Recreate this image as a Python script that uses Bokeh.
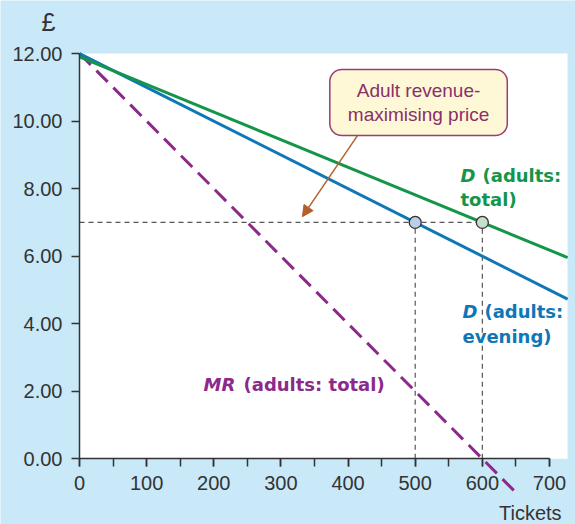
from bokeh.plotting import figure
from bokeh.models import Range1d, SingleIntervalTicker, PrintfTickFormatter, Label, Arrow, NormalHead
from bokeh.core.properties import value
from bokeh.embed import file_html
from bokeh.resources import INLINE

# ---- data ----
demand_total_q = [0, 727]
demand_total_p = [11.9, 5.96]
demand_evening_q = [0, 727]
demand_evening_p = [12.0, 4.73]
mr_q = [0, 652]
mr_p = [12.0, -1.04]
eq_q = [500, 600]
eq_p = [7.0, 7.0]

BG = "#c9e9f9"
GREEN = "#13954a"
BLUE = "#0f77b5"
PURPLE = "#8c2a8c"
FONT = "Liberation Sans"
BFONT = "DejaVu Sans"

W, H = 575, 524
X0_PX, X_SCALE = 79.0, 0.6714     # px of x=0, px per ticket
Y0_PX, Y_SCALE = 458.3, 33.77     # px of y=0, px per pound
x_start = -X0_PX / X_SCALE
x_end = (W - X0_PX) / X_SCALE
y_end = Y0_PX / Y_SCALE
y_start = -(H - Y0_PX) / Y_SCALE
WHITE_RIGHT = (567 - X0_PX) / X_SCALE

p = figure(width=W, height=H, output_backend="svg", toolbar_location=None,
           x_range=Range1d(x_start, x_end), y_range=Range1d(y_start, y_end),
           min_border_left=0, min_border_right=0, min_border_top=0, min_border_bottom=0)
p.background_fill_color = BG
p.border_fill_color = BG
p.outline_line_color = None
p.grid.visible = False

# white plotting area
p.quad(left=[0], right=[WHITE_RIGHT], bottom=[0], top=[12], fill_color="white", line_color=None)

# guide lines
p.segment(x0=[0, eq_q[0], eq_q[1]], y0=[eq_p[0], 0, 0],
          x1=[eq_q[1], eq_q[0], eq_q[1]], y1=[eq_p[1], eq_p[0], eq_p[1]],
          line_color="#555555", line_width=1.2, line_dash="5 4")

# curves
p.line(mr_q, mr_p, line_color=PURPLE, line_width=3, line_dash="16 8")
p.line(demand_evening_q, demand_evening_p, line_color=BLUE, line_width=3)
p.line(demand_total_q, demand_total_p, line_color=GREEN, line_width=3)

p.scatter(x=eq_q, y=eq_p, size=12, fill_color=["#b9d0e6", "#c6e0cb"],
          line_color="#333333", line_width=1.3)

# axes
xa = p.xaxis[0]
xa.fixed_location = 0
xa.bounds = (0, 700)
xa.ticker = SingleIntervalTicker(interval=100, num_minor_ticks=2)
xa.axis_line_color = "#333333"
xa.axis_line_width = 1.5
xa.major_tick_out = 8
xa.major_tick_in = 0
xa.minor_tick_out = 8
xa.minor_tick_in = 0
xa.major_tick_line_color = "#333333"
xa.minor_tick_line_color = "#333333"
xa.major_tick_line_width = 1.5
xa.minor_tick_line_width = 1.5
xa.major_label_text_font = FONT
xa.major_label_text_font_size = "20px"
xa.major_label_text_color = "#333333"
xa.major_label_standoff = 9

ya = p.yaxis[0]
ya.fixed_location = 0
ya.bounds = (0, 12)
ya.ticker = SingleIntervalTicker(interval=2, num_minor_ticks=0)
ya.formatter = PrintfTickFormatter(format="%.2f")
ya.axis_line_color = "#333333"
ya.axis_line_width = 1.5
ya.major_tick_out = 8
ya.major_tick_in = 0
ya.minor_tick_line_color = None
ya.major_tick_line_color = "#333333"
ya.major_tick_line_width = 1.5
ya.major_label_text_font = FONT
ya.major_label_text_font_size = "20px"
ya.major_label_text_color = "#333333"
ya.major_label_standoff = 9

# axis titles
p.add_layout(Label(x=-46.2, y=12.93, text="£", text_font=FONT, text_font_size="25px",
                   text_color="#333333", text_align="center", text_baseline="middle"))
p.add_layout(Label(x=718, y=-1.6, text="Tickets", text_font=FONT, text_font_size="20px",
                   text_color="#333333", text_align="right", text_baseline="middle"))

# curve labels
def two_part(x, y, first, rest, color, offset):
    p.text(x=[x], y=[y], text=[first], text_font=value(BFONT), text_font_size="18px",
           text_font_style="bold italic", text_color=color, text_baseline="middle")
    p.text(x=[x], y=[y], text=[rest], text_font=value(BFONT), text_font_size="18px",
           text_font_style="bold", text_color=color, text_baseline="middle", x_offset=offset)

def plain(x, y, t, color):
    p.text(x=[x], y=[y], text=[t], text_font=value(BFONT), text_font_size="18px",
           text_font_style="bold", text_color=color, text_baseline="middle")

two_part(567.5, 8.39, "D", "(adults:", GREEN, 22)
plain(567.5, 7.68, "total)", GREEN)
two_part(570.4, 4.37, "D", "(adults:", BLUE, 22)
plain(570.4, 3.62, "evening)", BLUE)
two_part(184.7, 2.20, "MR", "(adults: total)", PURPLE, 40)

# annotation box and arrow
p.add_layout(Arrow(end=NormalHead(size=11, fill_color="#b5602c", line_color="#b5602c"),
                   x_start=414, y_start=9.57, x_end=332, y_end=7.17,
                   line_color="#b5602c", line_width=1.5))
p.add_layout(Label(x=505, y=10.55, text="Adult revenue-\nmaximising price",
                   text_font=FONT, text_font_size="19px", text_color="#8a2f6a",
                   text_align="center", text_baseline="middle", text_line_height=1.1,
                   background_fill_color="#fef8d6", border_line_color="#9c3b74",
                   border_line_width=1.5, padding=(18, 11), border_radius=12))

open("out.html", "w").write(file_html(p, INLINE))
